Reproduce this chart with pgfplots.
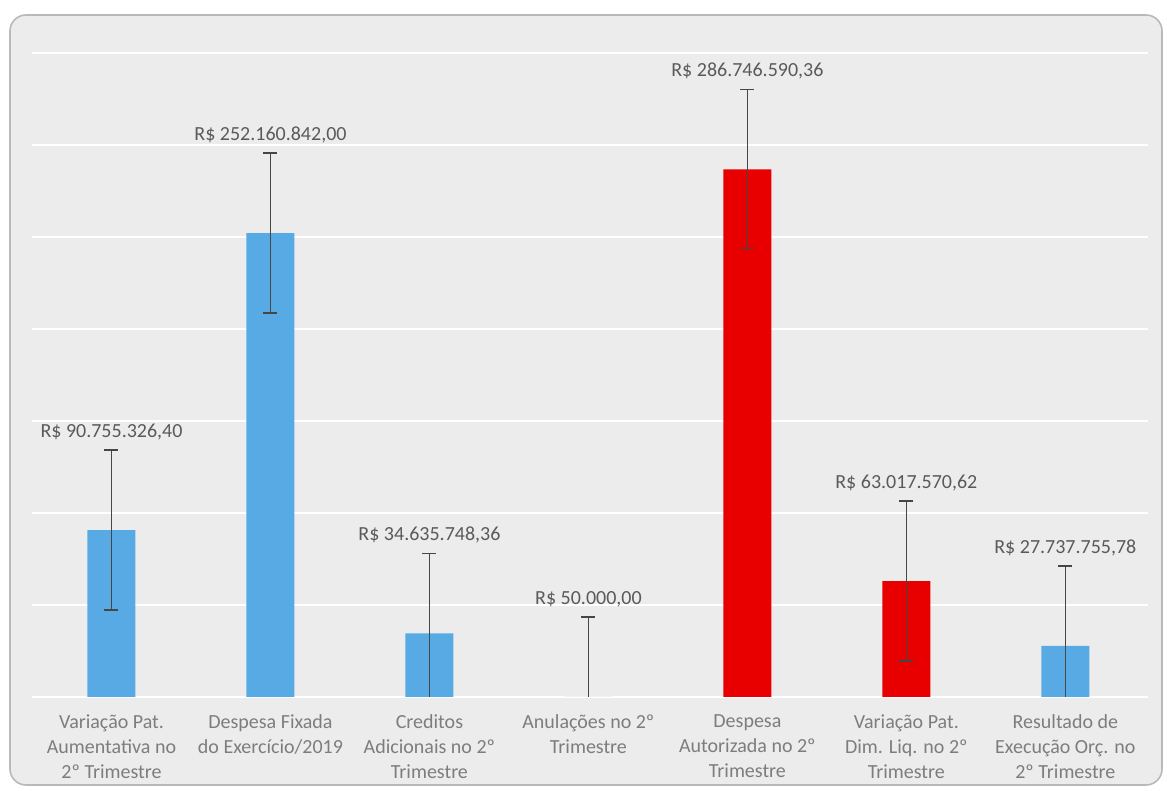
\documentclass[border=0pt]{standalone}
\usepackage{pgfplots}
\pgfplotsset{compat=1.18}
\usepackage{fontspec}
\setmainfont{Carlito}
\definecolor{barblue}{RGB}{88,170,228}
\definecolor{barred}{RGB}{232,0,0}
\definecolor{bggray}{RGB}{236,236,236}
\definecolor{valgray}{RGB}{90,90,90}
\definecolor{catgray}{RGB}{125,125,125}
\definecolor{errgray}{RGB}{70,70,70}

\begin{document}
\begin{tikzpicture}
% page and chart frame (1px = 0.5pt, origin = axis lower left)
\fill[white] (-16pt,-47pt) rectangle (567.5pt,348.5pt);
\draw[gray!55, line width=0.8pt, fill=bggray, rounded corners=8pt] (-11pt,-44pt) rectangle (565pt,341pt);
\begin{axis}[
    at={(0,0)}, anchor=south west,
    scale only axis, width=558pt, height=322pt,
    xmin=-0.5, xmax=6.52, ymin=0, ymax=350,
    axis line style={draw=none},
    ytick={0,50,...,350}, yticklabels={},
    ymajorgrids, grid style={white, line width=1.3pt},
    major tick length=0pt,
    xtick={0,...,6},
    xticklabels={
        {Variação Pat.\\Aumentativa no\\2º Trimestre},
        {Despesa Fixada\\do Exercício/2019},
        {Creditos\\Adicionais no 2º\\Trimestre},
        {Anulações no 2º\\Trimestre},
        {Despesa\\Autorizada no 2º\\Trimestre},
        {Variação Pat.\\Dim. Liq. no 2º\\Trimestre},
        {Resultado de\\Execução Orç. no\\2º Trimestre}},
    xticklabel style={align=center, font=\fontsize{10}{12.5}\selectfont, text=catgray, yshift=-5.5pt},
    error bars/error bar style={errgray, line width=0.7pt},
    error bars/error mark options={errgray, rotate=90, mark size=3.5pt, line width=0.7pt},
]
\addplot[ybar, bar width=24pt, bar shift=0pt, fill=barblue, draw=none,
    error bars/.cd, y dir=both, y explicit]
    coordinates {(0,90.7553264) +- (0,43.4)
                 (1,252.160842) +- (0,43.4)
                 (2,34.63574836) +- (0,43.4)
                 (3,0.05) +- (0,43.4)
                 (6,27.73775578) +- (0,43.4)};
\addplot[ybar, bar width=24pt, bar shift=0pt, fill=barred, draw=none,
    error bars/.cd, y dir=both, y explicit]
    coordinates {(4,286.74659036) +- (0,43.4)
                 (5,63.01757062) +- (0,43.4)};
% value labels, placed above the error bar tops
\addplot[only marks, mark=none, nodes near coords, point meta=explicit symbolic,
    every node near coord/.append style={anchor=south, yshift=1.5pt, text=valgray,
        font=\fontsize{10}{12}\selectfont}]
    coordinates {(0,134.16)[R\$ 90.755.326,40]
                 (1,295.56)[R\$ 252.160.842,00]
                 (2,78.04)[R\$ 34.635.748,36]
                 (3,43.45)[R\$ 50.000,00]
                 (4,330.15)[R\$ 286.746.590,36]
                 (5,106.42)[R\$ 63.017.570,62]
                 (6,71.14)[R\$ 27.737.755,78]};
\end{axis}
\end{tikzpicture}
\end{document}
